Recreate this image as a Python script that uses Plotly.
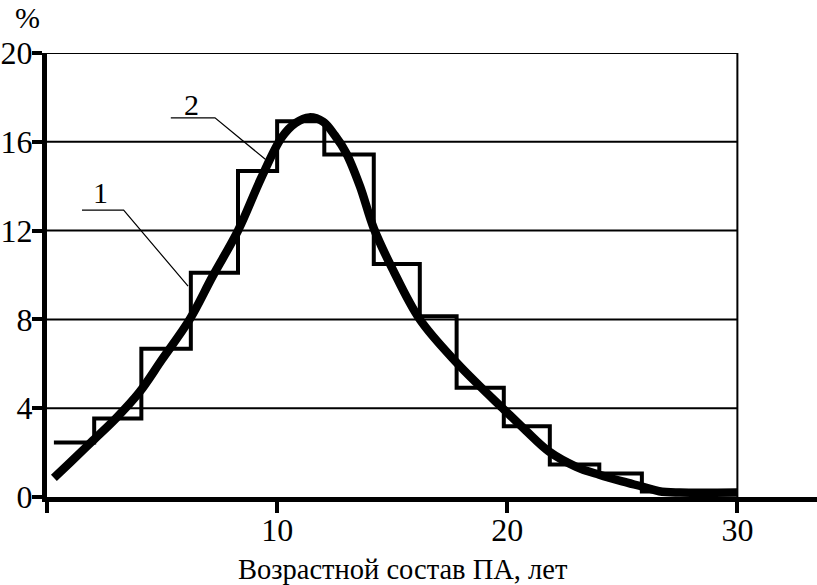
import plotly.graph_objects as go

# Histogram (line 1): bin edges and heights, %
bin_edges = [0.3, 2.05, 4.1, 6.25, 8.3, 10.0, 12.05, 14.2, 16.2, 17.8, 19.85, 21.85, 24.0, 25.85, 30.0]
bin_values = [2.45, 3.54, 6.68, 10.1, 14.68, 16.93, 15.43, 10.5, 8.14, 4.92, 3.19, 1.46, 1.06, 0.25]

# Smooth fitted curve (line 2)
curve_x = [0.3, 1.0, 2.0, 3.0, 4.0, 5.0, 6.2, 7.2, 8.3, 9.3, 10.2, 10.8, 11.4, 12.0, 12.5,
           13.0, 13.6, 14.2, 15.0, 16.2, 17.8, 18.8, 19.8, 20.8, 21.8, 23.0, 24.0, 25.0,
           25.9, 26.6, 27.5, 30.0]
curve_y = [0.86, 1.55, 2.55, 3.55, 4.7, 6.2, 8.0, 9.95, 12.0, 14.35, 16.2, 16.85, 17.1, 16.9, 16.3,
           15.5, 14.0, 12.1, 10.3, 8.0, 6.05, 5.0, 4.0, 3.0, 2.06, 1.36, 1.0, 0.7,
           0.46, 0.26, 0.2, 0.2]

x_ticks = [0, 10, 20, 30]
x_tick_labels = ["", "10", "20", "30"]
y_ticks = [0, 4, 8, 12, 16, 20]
y_tick_labels = ["0", "4", "8", "12", "16", "20"]

# Leader lines for labels "1" and "2"
leader1_x = [1.52, 3.33, 6.13]
leader1_y = [12.92, 12.92, 9.5]
leader2_x = [5.38, 7.3, 9.5]
leader2_y = [17.08, 17.08, 15.2]
label1_pos = (2.31, 13.7)
label2_pos = (6.27, 17.68)

FONT = "Liberation Serif, Times New Roman, serif"

step_x = bin_edges
step_y = bin_values + [bin_values[-1]]

fig = go.Figure()

# Grid lines (only up to x=30) and right border at x=30
for yv in y_ticks[1:]:
    fig.add_shape(type="line", x0=0, x1=30, y0=yv, y1=yv, xref="x", yref="y",
                  line=dict(color="black", width=2), layer="below")
fig.add_shape(type="line", x0=30, x1=30, y0=0, y1=20, xref="x", yref="y",
              line=dict(color="black", width=2), layer="below")

fig.add_trace(go.Scatter(x=step_x, y=step_y, mode="lines", line_shape="hv",
                         line=dict(color="black", width=4), hoverinfo="skip"))
fig.add_trace(go.Scatter(x=curve_x, y=curve_y, mode="lines", line_shape="spline",
                         line=dict(color="black", width=8.5), hoverinfo="skip"))
fig.add_trace(go.Scatter(x=leader1_x, y=leader1_y, mode="lines",
                         line=dict(color="black", width=1.2), hoverinfo="skip"))
fig.add_trace(go.Scatter(x=leader2_x, y=leader2_y, mode="lines",
                         line=dict(color="black", width=1.2), hoverinfo="skip"))

fig.add_annotation(x=label1_pos[0], y=label1_pos[1], text="1", showarrow=False,
                   xanchor="center", yanchor="middle",
                   font=dict(family=FONT, size=30, color="black"))
fig.add_annotation(x=label2_pos[0], y=label2_pos[1], text="2", showarrow=False,
                   xanchor="center", yanchor="middle",
                   font=dict(family=FONT, size=30, color="black"))
fig.add_annotation(x=-0.025, y=1.081, xref="paper", yref="paper", text="%", showarrow=False,
                   xanchor="center", yanchor="middle",
                   font=dict(family=FONT, size=30, color="black"))
fig.add_annotation(x=0.4626, y=-0.163, xref="paper", yref="paper",
                   text="Возрастной состав ПА, лет", showarrow=False,
                   xanchor="center", yanchor="middle",
                   font=dict(family=FONT, size=28.5, color="black"))

fig.update_layout(
    width=817, height=585,
    margin=dict(l=47, r=0, t=53, b=87.5),
    paper_bgcolor="white", plot_bgcolor="white",
    showlegend=False,
    xaxis=dict(range=[0, 33.46], tickvals=x_ticks, ticktext=x_tick_labels, automargin=False,
               showgrid=False, zeroline=False, showline=True, linecolor="black", linewidth=5,
               ticks="outside", ticklen=11, tickwidth=4, tickcolor="black",
               ticklabelstandoff=-10,
               tickfont=dict(family=FONT, size=32, color="black")),
    yaxis=dict(range=[0, 20], tickvals=y_ticks, ticktext=y_tick_labels, automargin=False,
               showgrid=False, zeroline=False, showline=True, linecolor="black", linewidth=5,
               ticks="outside", ticklen=10, tickwidth=4, tickcolor="black",
               ticklabelstandoff=-7,
               tickfont=dict(family=FONT, size=32, color="black")),
)

fig.write_html("out.html", config={"displayModeBar": False},
               post_script="document.body.style.margin='0';document.body.style.overflow='hidden';")
